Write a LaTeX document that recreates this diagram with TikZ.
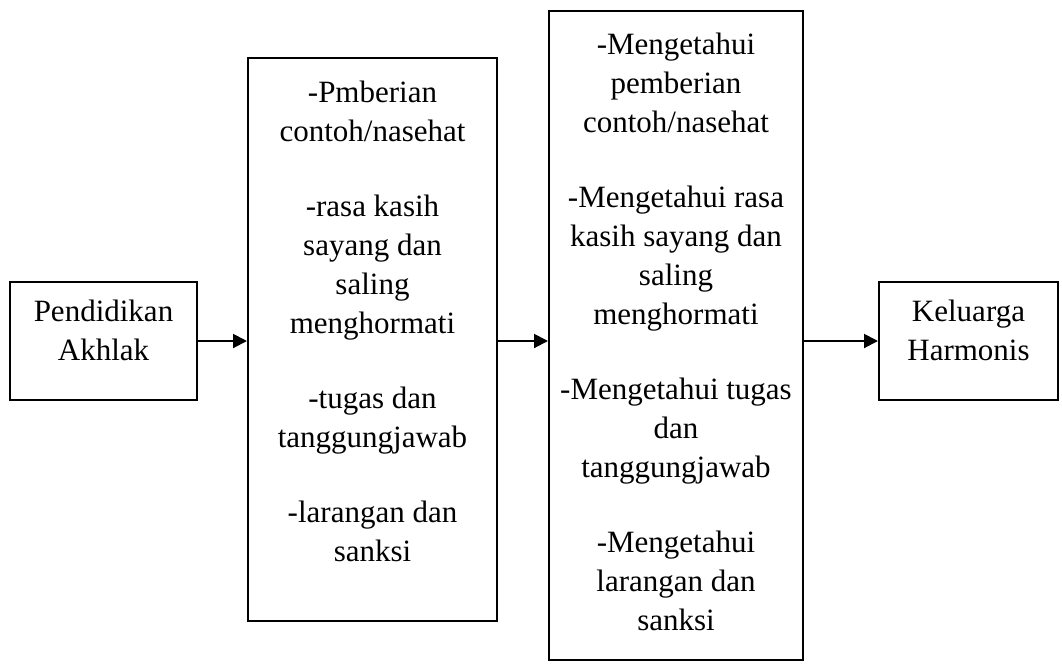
\documentclass[tikz,border=0pt]{standalone}
\usepackage{fontspec}
\setmainfont{Liberation Serif}
\usetikzlibrary{positioning,arrows.meta}

\begin{document}
\begin{tikzpicture}[x=0.5pt, y=-0.5pt,
    box/.style={draw, line width=1pt, inner sep=0pt},
    txt/.style={align=center, inner sep=0pt, font=\fontsize{15.5}{19.5}\selectfont},
    arr/.style={-{Triangle[length=7pt,width=7pt]}, line width=1pt}]
    \useasboundingbox (0,0) rectangle (1062,666);
    \node[box, minimum width=93.5pt, minimum height=59pt] (pend) at (103.5,341) {};
    \node[box, minimum width=124.5pt, minimum height=281.5pt] (isi) at (372.5,339.5) {};
    \node[box, minimum width=127pt, minimum height=324.5pt] (tahu) at (676,335.5) {};
    \node[box, minimum width=89.5pt, minimum height=59pt] (klg) at (968.5,341) {};
    \node[txt] (pendtxt) [below=9.5pt of pend.north] {Pendidikan\\Akhlak};
    \node[txt] (isitxt) [below=12pt of isi.north] {-Pmberian\\contoh/nasehat\\[18pt]-rasa kasih\\sayang dan\\saling\\menghormati\\[18pt]-tugas dan\\tanggungjawab\\[18pt]-larangan dan\\sanksi};
    \node[txt] (tahutxt) [below=11.5pt of tahu.north] {-Mengetahui\\pemberian\\contoh/nasehat\\[18pt]-Mengetahui rasa\\kasih sayang dan\\saling\\menghormati\\[18pt]-Mengetahui tugas\\dan\\tanggungjawab\\[18pt]-Mengetahui\\larangan dan\\sanksi};
    \node[txt] (klgtxt) [below=9.5pt of klg.north] {Keluarga\\Harmonis};
    \draw[arr] (pend.east) -- (pend.east -| isi.west);
    \draw[arr] (isi.east |- pend.east) -- (tahu.west |- pend.east);
    \draw[arr] (tahu.east |- klg.west) -- (klg.west);
\end{tikzpicture}
\end{document}
